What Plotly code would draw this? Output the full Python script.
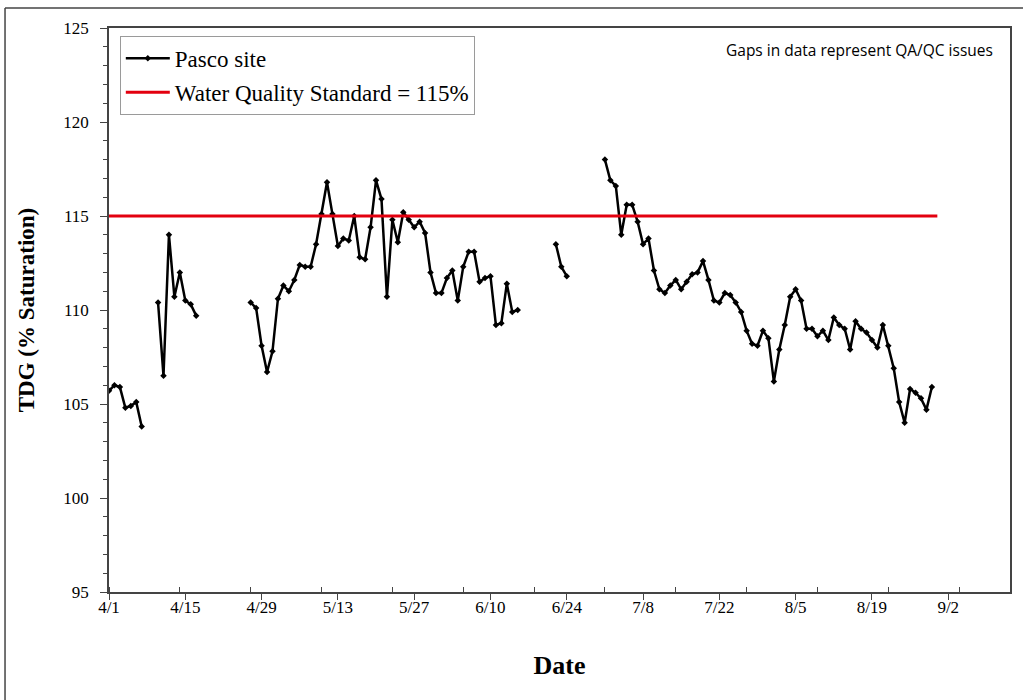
import pandas as pd
import plotly.graph_objects as go

# ---- data ----
seg_starts = ["2013-04-01", "2013-04-10", "2013-04-27", "2013-06-22", "2013-07-01"]
seg1_values = [105.7, 106.0, 105.9, 104.8, 104.9, 105.1, 103.8]
seg2_values = [110.4, 106.5, 114.0, 110.7, 112.0, 110.5, 110.3, 109.7]
seg3_values = [110.4, 110.1, 108.1, 106.7, 107.8, 110.6, 111.3, 111.0, 111.6, 112.4,
               112.3, 112.3, 113.5, 115.1, 116.8, 115.1, 113.4, 113.8, 113.7, 115.0,
               112.8, 112.7, 114.4, 116.9, 115.9, 110.7, 114.8, 113.6, 115.2, 114.8,
               114.4, 114.7, 114.1, 112.0, 110.9, 110.9, 111.7, 112.1, 110.5, 112.3,
               113.1, 113.1, 111.5, 111.7, 111.8, 109.2, 109.3, 111.4, 109.9, 110.0]
seg4_values = [113.5, 112.3, 111.8]
seg5_values = [118.0, 116.9, 116.6, 114.0, 115.6, 115.6, 114.7, 113.5, 113.8, 112.1,
               111.1, 110.9, 111.3, 111.6, 111.1, 111.5, 111.9, 112.0, 112.6, 111.6,
               110.5, 110.4, 110.9, 110.8, 110.4, 109.9, 108.9, 108.2, 108.1, 108.9,
               108.5, 106.2, 107.9, 109.2, 110.7, 111.1, 110.5, 109.0, 109.0, 108.6,
               108.9, 108.4, 109.6, 109.2, 109.0, 107.9, 109.4, 109.0, 108.8, 108.4,
               108.0, 109.2, 108.1, 106.9, 105.1, 104.0, 105.8, 105.6, 105.3, 104.7,
               105.9]
segments = [seg1_values, seg2_values, seg3_values, seg4_values, seg5_values]

std_dates = ["2013-04-01", "2013-08-31"]
std_values = [115, 115]

x_range = ["2013-04-01", "2013-09-13 08:00"]
y_range = [95, 125]

# build the series with gaps
xs, ys = [], []
for start, vals in zip(seg_starts, segments):
    d = pd.date_range(start, periods=len(vals), freq="D")
    xs.extend(list(d.strftime("%Y-%m-%d")))
    ys.extend(vals)
    xs.append(None)
    ys.append(None)

serif = "Liberation Serif, Times New Roman, serif"
DAY = 86400000

fig = go.Figure()
fig.add_trace(go.Scatter(
    x=xs, y=ys, mode="lines+markers", name="Pasco site",
    line=dict(color="black", width=2.5),
    marker=dict(symbol="diamond", size=5, color="black"),
    connectgaps=False, legendgroup="a",
))
fig.add_trace(go.Scatter(
    x=std_dates, y=std_values, mode="lines", name="Water Quality Standard = 115%",
    line=dict(color="#e3000f", width=3), legendgroup="b",
))

fig.update_layout(
    width=1023, height=700,
    margin=dict(l=109, r=13, t=28, b=108),
    paper_bgcolor="white", plot_bgcolor="white",
    font=dict(family=serif, color="black"),
    showlegend=True,
    legend=dict(
        x=0.012, y=0.986, xanchor="left", yanchor="top",
        bordercolor="#9a9a9a", borderwidth=1, bgcolor="white",
        font=dict(family=serif, size=23, color="black"),
        tracegroupgap=1, traceorder="grouped", itemwidth=44,
    ),
    annotations=[dict(
        text="Gaps in data represent QA/QC issues",
        xref="paper", yref="paper", x=0.983, y=0.961,
        xanchor="right", yanchor="middle", showarrow=False,
        font=dict(family="Open Sans, Liberation Sans, sans-serif", size=15.5, color="black"),
    )],
    shapes=[
        dict(type="line", xref="paper", yref="paper", x0=-0.1154, x1=1.02,
             y0=1.0355, y1=1.0355, line=dict(color="#444444", width=1.5)),
        dict(type="line", xref="paper", yref="paper", x0=-0.1154, x1=-0.1154,
             y0=-0.2, y1=1.0355, line=dict(color="#444444", width=1.5)),
    ],
)

fig.update_xaxes(
    type="date", range=x_range,
    tick0="2013-04-01", dtick=14 * DAY, tickformat="%-m/%-d",
    ticks="outside", ticklen=6, tickcolor="#444", tickwidth=1,
    ticklabelstandoff=-7,
    minor=dict(tick0="2013-04-01", dtick=13 * DAY, ticks="inside", ticklen=5,
               tickcolor="#444", tickwidth=1),
    showline=True, linecolor="#444", linewidth=1.5, mirror=True,
    showgrid=False, zeroline=False,
    tickfont=dict(family=serif, size=17, color="black"),
    title=dict(text="<b>Date</b>", font=dict(family=serif, size=26, color="black"),
               standoff=40),
)
fig.update_yaxes(
    range=y_range, dtick=5, tick0=95,
    ticks="outside", ticklen=7, tickcolor="#444", tickwidth=1,
    ticklabelstandoff=8,
    minor=dict(dtick=1, ticks="outside", ticklen=4, tickcolor="#444", tickwidth=1),
    showline=True, linecolor="#444", linewidth=1.5, mirror=True,
    showgrid=False, zeroline=False,
    tickfont=dict(family=serif, size=17, color="black"),
    title=dict(text="<b>TDG (% Saturation)</b>", font=dict(family=serif, size=23, color="black"),
               standoff=22),
)

fig.write_html("out.html", config={"displayModeBar": False},
               post_script="document.body.style.margin='0px';")
